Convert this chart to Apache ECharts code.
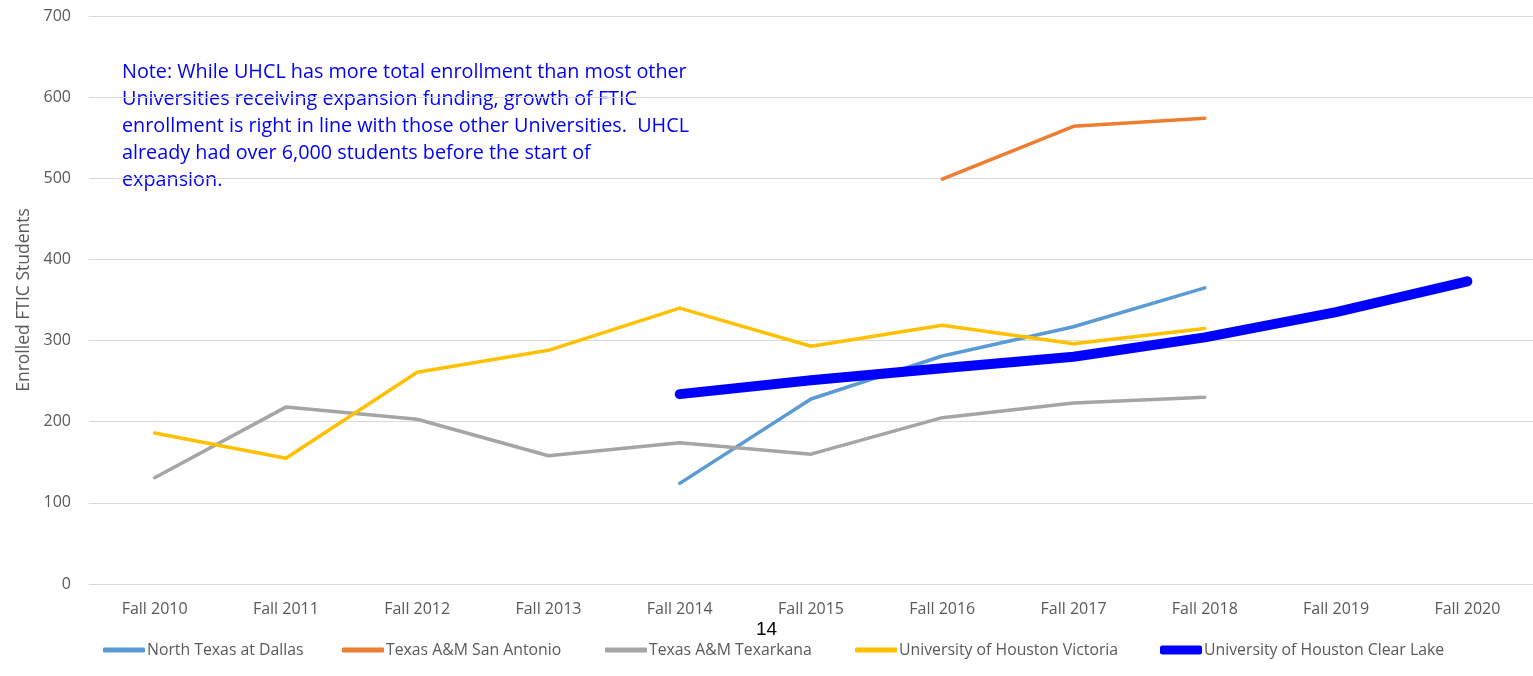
<!DOCTYPE html>
<html>
<head>
<meta charset="utf-8">
<script src="https://cdn.jsdelivr.net/npm/echarts@6/dist/echarts.min.js"></script>
<style>
html,body{margin:0;padding:0;background:#fff;}
#chart{width:1533px;height:676px;}
</style>
</head>
<body>
<div id="chart"></div>
<script>
const categories = ["Fall 2010","Fall 2011","Fall 2012","Fall 2013","Fall 2014","Fall 2015","Fall 2016","Fall 2017","Fall 2018","Fall 2019","Fall 2020"];
const northTexasDallas = [null,null,null,null,124,228,281,317,365,null,null];
const amSanAntonio = [null,null,null,null,null,null,499,564,574,null,null];
const amTexarkana = [131,218,203,158,174,160,205,223,230,null,null];
const uhVictoria = [186,155,261,288,340,293,319,296,315,null,null];
const uhClearLake = [null,null,null,null,234,251,266,280,304,335,373];
const seriesNames = ["North Texas at Dallas","Texas A&M San Antonio","Texas A&M Texarkana","University of Houston Victoria","University of Houston Clear Lake"];
const noteLines = [
  "Note: While UHCL has more total enrollment than most other",
  "Universities receiving expansion funding, growth of FTIC",
  "enrollment is right in line with those other Universities.  UHCL",
  "already had over 6,000 students before the start of",
  "expansion."
];
const yAxisTitle = "Enrolled FTIC Students";
const pageNumber = "14";

const font = "'Open Sans', 'Noto Sans', sans-serif";
const colors = ['#5b9bd5','#ed7d31','#a5a5a5','#ffc000','#0000ff'];
const legendLeft = [103, 342, 605, 855, 1160];
const chart = echarts.init(document.getElementById('chart'), null, {renderer:'canvas'});
function mk(name, data, color, width){
  return {name, type:'line', data, symbol:'none', connectNulls:false,
    lineStyle:{color, width, cap:'round', join:'round'}, itemStyle:{color}, silent:true, animation:false};
}
const legends = seriesNames.map((n,i)=>({
  left: legendLeft[i], top: 642, itemWidth: 42, itemHeight: i===4 ? 9 : 5, itemGap: 0,
  icon: 'roundRect', padding: 0,
  textStyle:{color:'#595959', fontSize:15.8, fontFamily:font, padding:[0,0,0,-3]},
  data:[n]
}));
chart.setOption({
  animation:false,
  grid:{left:89, right:0, top:16, bottom:92, containLabel:false},
  xAxis:{type:'category', data:categories, boundaryGap:true,
    axisLine:{show:true, lineStyle:{color:'#d9d9d9', width:1}},
    axisTick:{show:false},
    axisLabel:{color:'#595959', fontSize:16, fontFamily:font, margin:17}},
  yAxis:{type:'value', min:0, max:700, interval:100,
    name:yAxisTitle, nameLocation:'middle', nameGap:52, nameRotate:90,
    nameTextStyle:{color:'#595959', fontSize:17.5, fontFamily:font},
    axisLine:{show:false}, axisTick:{show:false},
    splitLine:{lineStyle:{color:'#d9d9d9', width:1}},
    axisLabel:{color:'#595959', fontSize:16, fontFamily:font, margin:18}},
  legend: legends,
  graphic:[
    {type:'text', left:122, top:59, style:{text:noteLines.join('\n'), fill:'#0000ff', font:"19.8px "+font, lineHeight:27}},
    {type:'text', left:756, top:620, style:{text:pageNumber, fill:'#000', font:"19px 'Liberation Sans', Arial, sans-serif"}}
  ],
  series:[
    mk(seriesNames[0], northTexasDallas, colors[0], 3.5),
    mk(seriesNames[1], amSanAntonio, colors[1], 3.5),
    mk(seriesNames[2], amTexarkana, colors[2], 3.5),
    mk(seriesNames[3], uhVictoria, colors[3], 3.5),
    mk(seriesNames[4], uhClearLake, colors[4], 10)
  ]
});
</script>
</body>
</html>
